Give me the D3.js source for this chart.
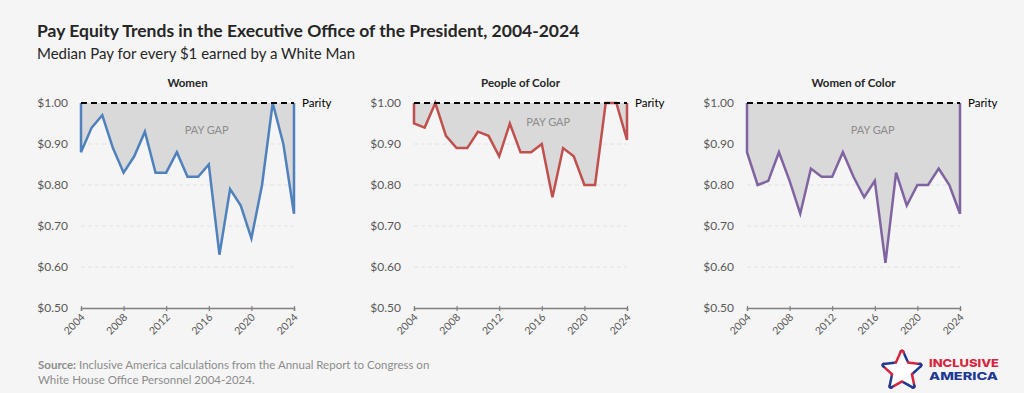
<!DOCTYPE html>
<html>
<head>
<meta charset="utf-8">
<script src="https://cdn.jsdelivr.net/npm/d3@7"></script>
<style>
  body { margin: 0; background: #f5f5f5; }
  svg { display: block; font-family: Lato, "Open Sans", sans-serif; }
</style>
</head>
<body>
<svg id="chart"></svg>
<script>
// data
let years = d3.range(2004, 2025)
let women = [0.88, 0.94, 0.97, 0.89, 0.83, 0.87, 0.93, 0.83, 0.83, 0.88, 0.82, 0.82, 0.85, 0.63, 0.79, 0.75, 0.67, 0.80, 1.00, 0.90, 0.73]
let peopleOfColor = [0.95, 0.94, 1.00, 0.92, 0.89, 0.89, 0.93, 0.92, 0.87, 0.95, 0.88, 0.88, 0.90, 0.77, 0.89, 0.87, 0.80, 0.80, 1.00, 1.00, 0.91]
let womenOfColor = [0.88, 0.80, 0.81, 0.88, 0.81, 0.73, 0.84, 0.82, 0.82, 0.88, 0.82, 0.77, 0.81, 0.61, 0.83, 0.75, 0.80, 0.80, 0.84, 0.80, 0.73]
let panelTitles = ['Women', 'People of Color', 'Women of Color']
let yTicks = [0.5, 0.6, 0.7, 0.8, 0.9, 1.0]
let xTicks = [2004, 2008, 2012, 2016, 2020, 2024]
let parity = 1.0

let W = 1024, H = 393
let svg = d3.select('#chart').attr('width', W).attr('height', H)
svg.append('rect').attr('width', W).attr('height', H).attr('fill', '#f5f5f5')

// titles
svg.append('text').text('Pay Equity Trends in the Executive Office of the President, 2004-2024')
  .attr('x', 37).attr('y', 37).attr('font-size', 17.5).attr('font-weight', 700).attr('fill', '#262626')
svg.append('text').text('Median Pay for every $1 earned by a White Man')
  .attr('x', 37).attr('y', 59).attr('font-size', 15).attr('fill', '#262626')

let panels = [
  {title: panelTitles[0], values: women, color: '#4f81bd', x0: 81, gapX: 0.59, gapY: 0.935},
  {title: panelTitles[1], values: peopleOfColor, color: '#c0504d', x0: 414, gapX: 0.63, gapY: 0.953},
  {title: panelTitles[2], values: womenOfColor, color: '#8064a2', x0: 747, gapX: 0.59, gapY: 0.935},
]
let pw = 213, plotTop = 103, ph = 205

let x = d3.scaleLinear().domain([2004, 2024]).range([0, pw])
let y = d3.scaleLinear().domain([0.5, 1.0]).range([ph, 0])

panels.forEach(p => {
  let g = svg.append('g').attr('transform', `translate(${p.x0},${plotTop})`)
  let pts = years.map((yr, i) => ({yr: yr, v: p.values[i]}))

  g.append('text').text(p.title)
    .attr('x', pw / 2).attr('y', -16).attr('text-anchor', 'middle')
    .attr('font-size', 11.5).attr('font-weight', 700).attr('fill', '#262626')

  // grid
  g.selectAll('.grid').data(yTicks.filter(d => d > 0.5 && d < 1)).enter().append('line')
    .attr('x1', 0).attr('x2', pw).attr('y1', d => y(d)).attr('y2', d => y(d))
    .attr('stroke', '#e2e2e2').attr('stroke-width', 1).attr('stroke-dasharray', '4,3')

  // y labels
  g.selectAll('.ylab').data(yTicks).enter().append('text')
    .text(d => '$' + d.toFixed(2))
    .attr('x', -13).attr('y', d => y(d)).attr('dy', '0.35em')
    .attr('text-anchor', 'end').attr('font-size', 12).attr('fill', '#595959')

  // gap area
  let area = d3.area().x(d => x(d.yr)).y0(y(parity)).y1(d => y(d.v))
  g.append('path').datum(pts).attr('d', area).attr('fill', '#d9d9d9')

  g.append('text').text('PAY GAP')
    .attr('x', pw * p.gapX).attr('y', y(p.gapY)).attr('dy', '0.35em')
    .attr('text-anchor', 'middle').attr('font-size', 11).attr('fill', '#8c8c8c')

  // line with area edges
  let edged = [{yr: 2004, v: parity}].concat(pts, [{yr: 2024, v: parity}])
  g.append('path').datum(edged)
    .attr('d', d3.line().x(d => x(d.yr)).y(d => y(d.v)))
    .attr('fill', 'none').attr('stroke', p.color).attr('stroke-width', 2.5)
    .attr('stroke-linejoin', 'miter')

  // parity line
  g.append('line').attr('x1', 0).attr('x2', pw).attr('y1', y(parity)).attr('y2', y(parity))
    .attr('stroke', '#000').attr('stroke-width', 2).attr('stroke-dasharray', '6,4')
  g.append('text').text('Parity').attr('x', pw + 8).attr('y', y(parity)).attr('dy', '0.35em')
    .attr('font-size', 11.5).attr('fill', '#000')

  // x axis
  let ax = g.append('g').attr('transform', `translate(0,${ph})`)
    .call(d3.axisBottom(x).tickValues(xTicks).tickFormat(d3.format('d')).tickSize(3))
  ax.select('.domain').attr('stroke', '#808080').attr('stroke-width', 1.5)
  ax.selectAll('.tick line').attr('stroke', '#808080').attr('stroke-width', 1.2).attr('y1', -2).attr('y2', 3)
  ax.selectAll('.tick text')
    .attr('font-family', 'Lato, sans-serif').attr('font-size', 10.5).attr('fill', '#595959')
    .attr('text-anchor', 'end').attr('dy', 0).attr('y', 0)
    .attr('transform', 'translate(4,10) rotate(-45)')
})

// source
let src = svg.append('text').attr('x', 38).attr('y', 369).attr('font-size', 11.5).attr('fill', '#8c8c8c')
src.append('tspan').text('Source:').attr('font-weight', 700)
src.append('tspan').text(' Inclusive America calculations from the Annual Report to Congress on')
svg.append('text').text('White House Office Personnel 2004-2024.')
  .attr('x', 38).attr('y', 384).attr('font-size', 11.5).attr('fill', '#8c8c8c')

// logo
let logo = svg.append('g').attr('transform', 'translate(902,371)')
let outer = 19, inner = 9
let starPts = d3.range(10).map(i => {
  let a = -Math.PI / 2 + i * Math.PI / 5
  let r = i % 2 === 0 ? outer : inner
  return [r * Math.cos(a), r * Math.sin(a)]
})
d3.range(10).forEach(i => {
  let a = starPts[i], b = starPts[(i + 1) % 10]
  logo.append('line').attr('x1', a[0]).attr('y1', a[1]).attr('x2', b[0]).attr('y2', b[1])
    .attr('stroke', i % 2 === 0 ? '#1f3a93' : '#d7263d').attr('stroke-width', 5)
    .attr('stroke-linecap', 'round')
})
logo.append('path').attr('d', 'M' + starPts.join('L') + 'Z').attr('fill', '#fff')
svg.append('text').text('INCLUSIVE').attr('x', 929).attr('y', 367)
  .attr('font-family', 'Inter, sans-serif').attr('font-weight', 800).attr('font-size', 11)
  .attr('fill', '#d7263d').attr('textLength', 70).attr('lengthAdjust', 'spacingAndGlyphs')
svg.append('text').text('AMERICA').attr('x', 929).attr('y', 380)
  .attr('font-family', 'Inter, sans-serif').attr('font-weight', 800).attr('font-size', 11)
  .attr('fill', '#1f3a93').attr('textLength', 69).attr('lengthAdjust', 'spacingAndGlyphs')
</script>
</body>
</html>
